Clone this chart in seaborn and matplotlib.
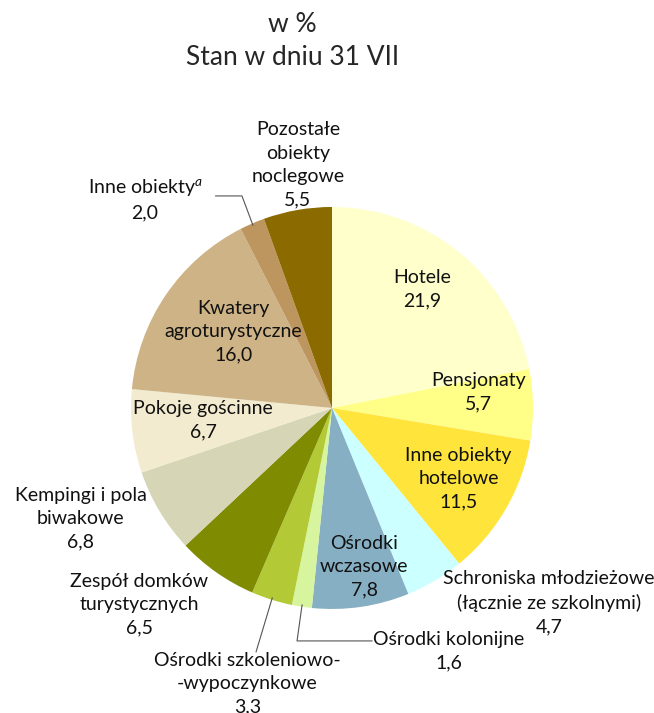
import numpy as np
import seaborn as sns
from matplotlib import pyplot as plt

categories = [
    "Hotele", "Pensjonaty", "Inne obiekty\nhotelowe",
    "Schroniska młodzieżowe\n(łącznie ze szkolnymi)", "Ośrodki\nwczasowe",
    "Ośrodki kolonijne", "Ośrodki szkoleniowo-\n-wypoczynkowe",
    "Zespół domków\nturystycznych", "Kempingi i pola\nbiwakowe",
    "Pokoje gościnne", "Kwatery\nagroturystyczne", "Inne obiekty$^{a}$",
    "Pozostałe\nobiekty\nnoclegowe",
]
shares = [21.9, 5.7, 11.5, 4.7, 7.8, 1.6, 3.3, 6.5, 6.8, 6.7, 16.0, 2.0, 5.5]
colors = [
    "#FFFFCC", "#FFFF88", "#FFE43C", "#CCFFFF", "#86AFC3", "#D6F59E", "#B3C935",
    "#7F8B00", "#D6D5B5", "#F2EBCF", "#CDB385", "#BC965E", "#8B6B00",
]

# label centres in axes data units (pie radius = 1)
label_pos = [
    (0.45, 0.59), (0.73, 0.08), (0.63, -0.35), (1.08, -0.97), (0.16, -0.79),
    (0.58, -1.21), (-0.42, -1.37), (-0.96, -0.98), (-1.25, -0.55),
    (-0.64, -0.06), (-0.49, 0.38), (-0.93, 1.04), (-0.17, 1.21),
]
# leader lines: slice index -> bend points
leaders = {
    5: [(-0.174, -1.159), (0.20, -1.159)],
    6: [(-0.378, -1.214)],
    11: [(-0.448, 1.055), (-0.58, 1.055)],
}

sns.set_style("white")
plt.rcParams["font.family"] = ["Lato", "DejaVu Sans"]
plt.rcParams["mathtext.fontset"] = "custom"
plt.rcParams["mathtext.it"] = "Lato:italic"
plt.rcParams["mathtext.rm"] = "Lato"

fig = plt.figure(figsize=(6.54, 7.13), dpi=100)
ax = fig.add_axes([0.2003, 0.1459, 0.6147, 0.5638])
ax.pie(shares, colors=colors, startangle=90, counterclock=False, radius=1,
       wedgeprops=dict(linewidth=0))
ax.set_xlim(-1, 1)
ax.set_ylim(-1, 1)
ax.set_aspect("equal")
ax.axis("off")

cum = np.cumsum([0] + shares[:-1])
for i, (name, val) in enumerate(zip(categories, shares)):
    x, y = label_pos[i]
    ax.text(x, y, name + "\n" + f"{val:.1f}".replace(".", ","),
            ha="center", va="center", fontsize=14, linespacing=1.45,
            color="#111111")
    if i in leaders:
        ang = np.deg2rad(90 - (cum[i] + val / 2) * 3.6)
        pts = [(0.99 * np.cos(ang), 0.99 * np.sin(ang))] + leaders[i]
        ax.plot([p[0] for p in pts], [p[1] for p in pts], color="#555555",
                lw=0.8, clip_on=False)

fig.text(0.447, 0.965, "w %", ha="center", va="center", fontsize=19)
fig.text(0.447, 0.919, "Stan w dniu 31 VII", ha="center", va="center", fontsize=19)

fig.savefig("out.png", dpi=100)
